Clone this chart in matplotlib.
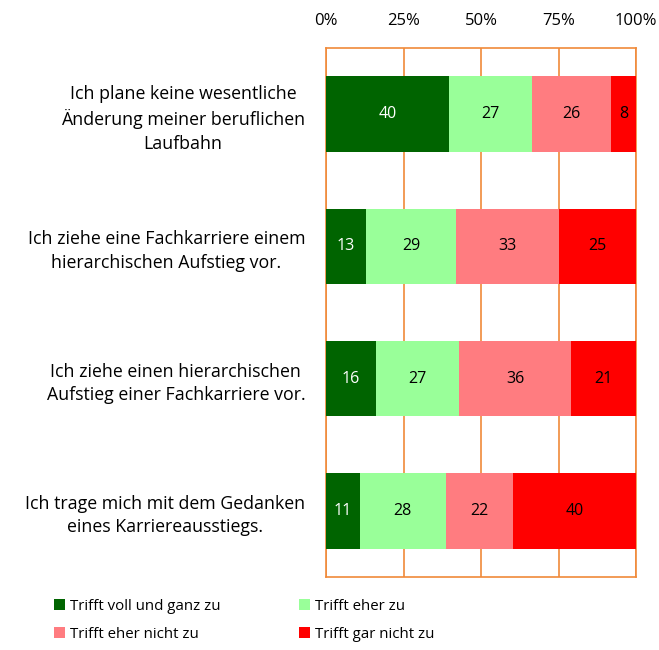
import matplotlib
matplotlib.use("Agg")
import matplotlib.pyplot as plt
import numpy as np

categories = [
    "Ich plane keine wesentliche\nÄnderung meiner beruflichen\nLaufbahn",
    "Ich ziehe eine Fachkarriere einem\nhierarchischen Aufstieg vor.",
    "Ich ziehe einen hierarchischen\nAufstieg einer Fachkarriere vor.",
    "Ich trage mich mit dem Gedanken\neines Karriereausstiegs.",
]
series_names = ["Trifft voll und ganz zu", "Trifft eher zu", "Trifft eher nicht zu", "Trifft gar nicht zu"]
values = {
    "Trifft voll und ganz zu": [40, 13, 16, 11],
    "Trifft eher zu": [27, 29, 27, 28],
    "Trifft eher nicht zu": [26, 33, 36, 22],
    "Trifft gar nicht zu": [8, 25, 21, 40],
}
colors = ["#006400", "#99FF99", "#FF7C80", "#FF0000"]
text_colors = ["white", "black", "black", "black"]
xticks = [0, 25, 50, 75, 100]
xticklabels = ["0%", "25%", "50%", "75%", "100%"]

plt.rcParams["font.family"] = ["Open Sans", "DejaVu Sans"]
fig = plt.figure(figsize=(6.59, 6.5), dpi=100)
ax = fig.add_axes([326/659, 1-577/650, 310/659, 529/650])

data = np.array([values[s] for s in series_names], dtype=float)
totals = data.sum(axis=0)
pct = data / totals * 100
y = np.arange(len(categories))
left = np.zeros(len(categories))
handles = []
for i, s in enumerate(series_names):
    b = ax.barh(y, pct[i], left=left, height=0.57, color=colors[i], label=s, zorder=3)
    handles.append(b)
    for j in range(len(categories)):
        ax.text(left[j] + pct[i][j]/2, y[j], str(int(data[i][j])), ha="center", va="center",
                color=text_colors[i], fontsize=11.5, zorder=4)
    left += pct[i]

ax.set_xlim(0, 100)
ax.set_ylim(len(categories)-0.5, -0.5)
ax.set_yticks(y)
ax.set_yticklabels(categories, multialignment="center", fontsize=12.8, linespacing=1.4)
ax.set_xticks(xticks)
ax.set_xticklabels(xticklabels, fontsize=12)
ax.xaxis.tick_top()
ax.tick_params(axis="both", length=0)
ax.tick_params(axis="x", pad=14)
ax.tick_params(axis="y", pad=15)
ax.grid(axis="x", color="#F08A3A", linewidth=1.2, zorder=0)
for sp in ax.spines.values():
    sp.set_color("#F08A3A")
    sp.set_linewidth(1.2)

order = [0, 2, 1, 3]
fig.legend([handles[k] for k in order], [series_names[k] for k in order],
           loc="lower left", bbox_to_anchor=(0.069, 0.0), ncol=2,
           frameon=False, fontsize=10.8, handlelength=0.75, handleheight=0.75,
           columnspacing=5.2, handletextpad=0.35, labelspacing=0.85,
           borderaxespad=0.15)

fig.savefig("out.png", dpi=100)
